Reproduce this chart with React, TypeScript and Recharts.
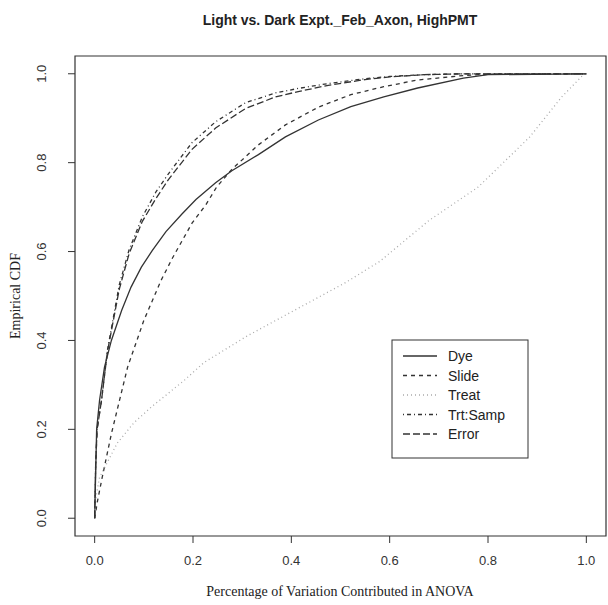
import React from "react";
import {
  LineChart,
  Line,
  XAxis,
  YAxis,
  ReferenceArea,
  Customized,
} from "recharts";

const title = "Light vs. Dark Expt._Feb_Axon, HighPMT";
const xLabel = "Percentage of Variation Contributed in ANOVA";
const yLabel = "Empirical CDF";
const ticks = [0, 0.2, 0.4, 0.6, 0.8, 1.0];

const dyeX = [0, 0.002, 0.004, 0.01, 0.02, 0.034, 0.055, 0.074, 0.095, 0.117, 0.145, 0.178, 0.206, 0.246, 0.279, 0.333, 0.388, 0.455, 0.521, 0.588, 0.657, 0.75, 0.8, 1];
const dyeY = [0, 0.1, 0.2, 0.266, 0.34, 0.4, 0.468, 0.52, 0.565, 0.602, 0.645, 0.685, 0.717, 0.755, 0.782, 0.818, 0.858, 0.896, 0.926, 0.948, 0.968, 0.99, 0.998, 1];

const slideX = [0, 0.006, 0.015, 0.034, 0.067, 0.1, 0.135, 0.158, 0.198, 0.226, 0.248, 0.279, 0.333, 0.388, 0.455, 0.521, 0.588, 0.657, 0.75, 0.8, 1];
const slideY = [0, 0.04, 0.09, 0.19, 0.34, 0.445, 0.535, 0.585, 0.664, 0.705, 0.745, 0.785, 0.84, 0.885, 0.925, 0.953, 0.971, 0.986, 0.996, 0.999, 1];

const treatX = [0, 0.003, 0.01, 0.046, 0.08, 0.115, 0.182, 0.222, 0.31, 0.41, 0.51, 0.58, 0.68, 0.78, 0.885, 0.95, 0.994, 1];
const treatY = [0, 0.05, 0.092, 0.169, 0.215, 0.25, 0.31, 0.35, 0.41, 0.47, 0.53, 0.578, 0.67, 0.745, 0.858, 0.948, 0.998, 1];

const trtSampX = [0, 0.002, 0.005, 0.014, 0.026, 0.05, 0.07, 0.097, 0.125, 0.15, 0.198, 0.246, 0.307, 0.368, 0.414, 0.475, 0.55, 0.6, 0.67, 0.75, 1];
const trtSampY = [0, 0.12, 0.2, 0.266, 0.378, 0.525, 0.604, 0.678, 0.735, 0.775, 0.845, 0.892, 0.935, 0.957, 0.967, 0.978, 0.989, 0.994, 0.998, 1, 1];

const errorX = [0, 0.002, 0.005, 0.014, 0.026, 0.05, 0.07, 0.097, 0.125, 0.15, 0.198, 0.246, 0.307, 0.368, 0.414, 0.475, 0.55, 0.6, 0.67, 0.75, 1];
const errorY = [0, 0.12, 0.2, 0.266, 0.375, 0.515, 0.595, 0.668, 0.72, 0.762, 0.83, 0.878, 0.922, 0.948, 0.96, 0.974, 0.987, 0.993, 0.998, 1, 1];

const zip = (xs: number[], ys: number[]) => xs.map((x, i) => ({ x, y: ys[i] }));

const series = [
  { name: "Dye", data: zip(dyeX, dyeY), dash: undefined, color: "#333" },
  { name: "Slide", data: zip(slideX, slideY), dash: "4 4", color: "#333" },
  { name: "Treat", data: zip(treatX, treatY), dash: "1 3", color: "#aaa" },
  { name: "Trt:Samp", data: zip(trtSampX, trtSampY), dash: "1 3 4 3", color: "#333" },
  { name: "Error", data: zip(errorX, errorY), dash: "7 3", color: "#333" },
];

const sans = "'Liberation Sans', Arial, sans-serif";
const serif = "'Liberation Serif', 'Times New Roman', serif";

function XTick({ x, y, payload }: any) {
  return (
    <text x={x} y={y + 20} textAnchor="middle" fontFamily={sans} fontSize={13} fill="#333">
      {Number(payload.value).toFixed(1)}
    </text>
  );
}

function YTick({ x, y, payload }: any) {
  const tx = x - 20;
  return (
    <text
      x={tx}
      y={y}
      transform={`rotate(-90 ${tx} ${y})`}
      textAnchor="middle"
      fontFamily={sans}
      fontSize={13}
      fill="#333"
    >
      {Number(payload.value).toFixed(1)}
    </text>
  );
}

function Decorations() {
  const lx = 392;
  const ly = 340;
  return (
    <g>
      <text x={340} y={25} textAnchor="middle" fontFamily={sans} fontWeight="bold" fontSize={14} fill="#222">
        {title}
      </text>
      <text x={340} y={596} textAnchor="middle" fontFamily={serif} fontSize={14} fill="#222">
        {xLabel}
      </text>
      <text
        x={20}
        y={296}
        transform="rotate(-90 20 296)"
        textAnchor="middle"
        fontFamily={serif}
        fontSize={14}
        fill="#222"
      >
        {yLabel}
      </text>
      <rect x={lx} y={ly} width={136} height={118} fill="#fff" stroke="#333" strokeWidth={1} />
      {series.map((s, i) => {
        const yy = ly + 16 + i * 19.5;
        return (
          <g key={s.name}>
            <line x1={lx + 11} x2={lx + 45} y1={yy} y2={yy} stroke={s.color} strokeWidth={1.3} strokeDasharray={s.dash} />
            <text x={lx + 56} y={yy + 5} fontFamily={sans} fontSize={14} fill="#222">
              {s.name}
            </text>
          </g>
        );
      })}
    </g>
  );
}

export default function App() {
  return (
    <div style={{ position: "absolute", left: 0, top: 0, background: "#fff" }}>
      <LineChart width={608} height={605} margin={{ top: 56, right: 2, left: 0, bottom: 0 }}>
        <XAxis
          dataKey="x"
          type="number"
          domain={[-0.04, 1.04]}
          ticks={ticks}
          allowDataOverflow
          axisLine={false}
          tickSize={7}
          tickLine={{ stroke: "#333" }}
          tick={<XTick />}
          height={69}
        />
        <YAxis
          dataKey="y"
          type="number"
          domain={[-0.04, 1.04]}
          ticks={ticks}
          allowDataOverflow
          axisLine={false}
          tickSize={7}
          tickLine={{ stroke: "#333" }}
          tick={<YTick />}
          width={75}
        />
        <ReferenceArea x1={-0.04} x2={1.04} y1={-0.04} y2={1.04} fill="none" stroke="#333" strokeWidth={1.2} />
        {series.map((s) => (
          <Line
            key={s.name}
            data={s.data}
            dataKey="y"
            name={s.name}
            type="linear"
            stroke={s.color}
            strokeWidth={1.3}
            strokeDasharray={s.dash}
            dot={false}
            isAnimationActive={false}
          />
        ))}
        <Customized component={<Decorations />} />
      </LineChart>
    </div>
  );
}
